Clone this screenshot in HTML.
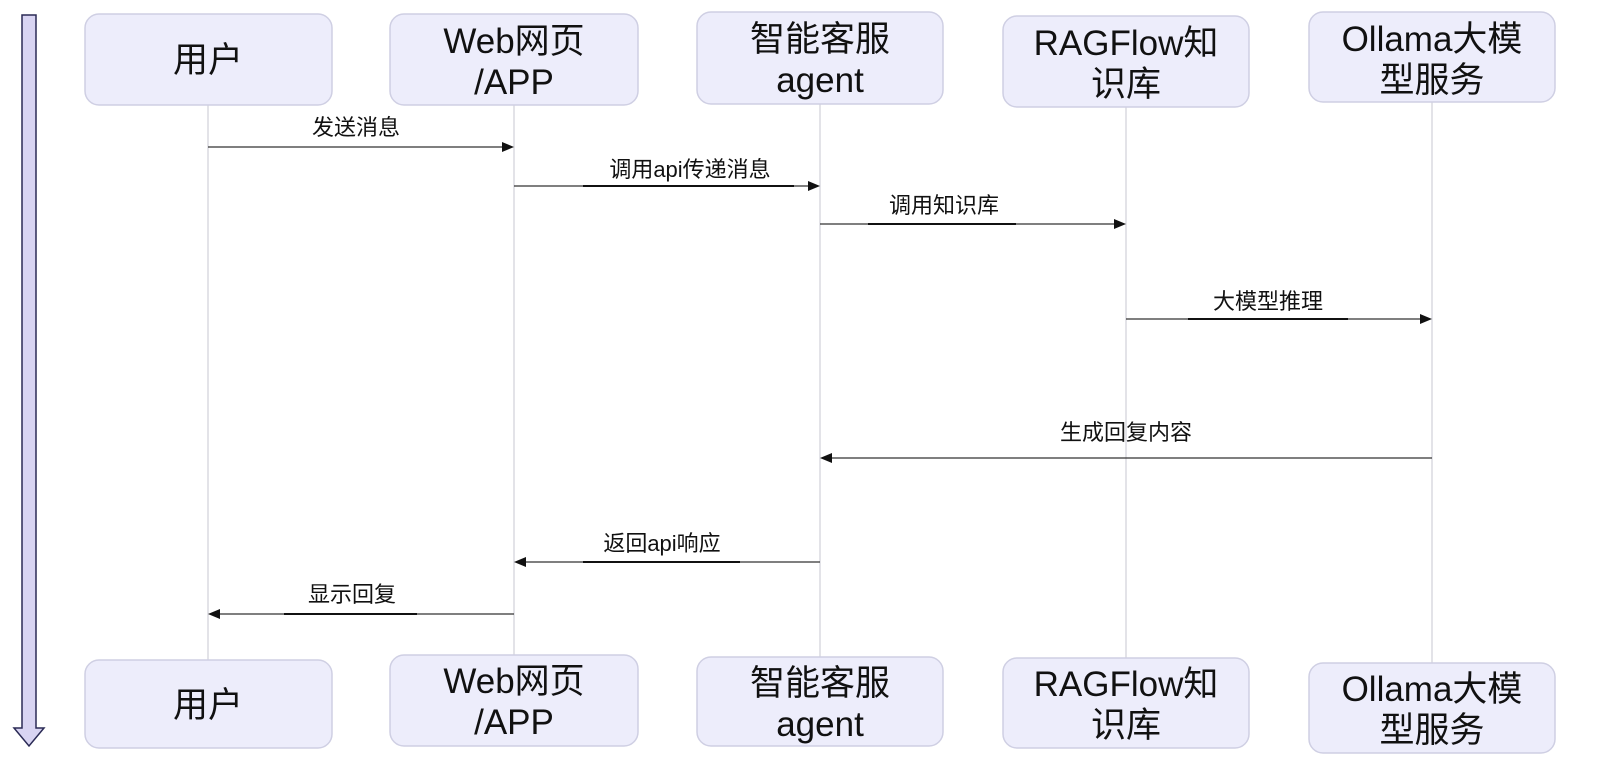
<!DOCTYPE html>
<html><head><meta charset="utf-8"><style>
html,body{margin:0;padding:0;background:#fff;}
svg{display:block;}
.box{fill:#ededfb;stroke:#cfcfe3;stroke-width:1.5;}
.bt{font-family:"Liberation Sans","Noto Sans CJK SC",sans-serif;font-size:35px;fill:#111;text-anchor:middle;}
.ml{font-family:"Liberation Sans","Noto Sans CJK SC",sans-serif;font-size:22px;fill:#111;text-anchor:middle;}
.life{stroke:#d0d0d8;stroke-width:1.2;}
.msg{stroke:#333;stroke-width:1.3;}
.ul{stroke:#111;stroke-width:2;}
</style></head><body>
<svg width="1600" height="777" viewBox="0 0 1600 777" xmlns="http://www.w3.org/2000/svg">
<path d="M22 15 H36 V728 H44 L29 746 L14 728 H22 Z" fill="#d8d4f2" stroke="#2a2a55" stroke-width="1.5"/>
<line class="life" x1="208" y1="105" x2="208" y2="660"/>
<line class="life" x1="514" y1="105" x2="514" y2="655"/>
<line class="life" x1="820" y1="104" x2="820" y2="657"/>
<line class="life" x1="1126" y1="107" x2="1126" y2="658"/>
<line class="life" x1="1432" y1="102" x2="1432" y2="663"/>
<rect class="box" x="85" y="14" width="247" height="91" rx="14"/>
<text class="bt" x="208" y="72">用户</text>
<rect class="box" x="390" y="14" width="248" height="91" rx="14"/>
<text class="bt" x="514" y="53">Web网页</text><text class="bt" x="514" y="94">/APP</text>
<rect class="box" x="697" y="12" width="246" height="92" rx="14"/>
<text class="bt" x="820" y="51">智能客服</text><text class="bt" x="820" y="92">agent</text>
<rect class="box" x="1003" y="16" width="246" height="91" rx="14"/>
<text class="bt" x="1126" y="55">RAGFlow知</text><text class="bt" x="1126" y="96">识库</text>
<rect class="box" x="1309" y="12" width="246" height="90" rx="14"/>
<text class="bt" x="1432" y="51">Ollama大模</text><text class="bt" x="1432" y="92">型服务</text>
<rect class="box" x="85" y="660" width="247" height="88" rx="14"/>
<text class="bt" x="208" y="717">用户</text>
<rect class="box" x="390" y="655" width="248" height="91" rx="14"/>
<text class="bt" x="514" y="693">Web网页</text><text class="bt" x="514" y="734">/APP</text>
<rect class="box" x="697" y="657" width="246" height="89" rx="14"/>
<text class="bt" x="820" y="695">智能客服</text><text class="bt" x="820" y="736">agent</text>
<rect class="box" x="1003" y="658" width="246" height="90" rx="14"/>
<text class="bt" x="1126" y="696">RAGFlow知</text><text class="bt" x="1126" y="737">识库</text>
<rect class="box" x="1309" y="663" width="246" height="90" rx="14"/>
<text class="bt" x="1432" y="701">Ollama大模</text><text class="bt" x="1432" y="742">型服务</text>
<line class="msg" x1="208" y1="147" x2="504" y2="147"/><path d="M514 147 L502 142 V152 Z" fill="#111"/>
<text class="ml" x="356" y="135">发送消息</text>
<line class="msg" x1="514" y1="186" x2="810" y2="186"/><path d="M820 186 L808 181 V191 Z" fill="#111"/>
<line class="ul" x1="583" y1="186" x2="794" y2="186"/>
<text class="ml" x="690" y="177">调用api传递消息</text>
<line class="msg" x1="820" y1="224" x2="1116" y2="224"/><path d="M1126 224 L1114 219 V229 Z" fill="#111"/>
<line class="ul" x1="868" y1="224" x2="1016" y2="224"/>
<text class="ml" x="944" y="213">调用知识库</text>
<line class="msg" x1="1126" y1="319" x2="1422" y2="319"/><path d="M1432 319 L1420 314 V324 Z" fill="#111"/>
<line class="ul" x1="1188" y1="319" x2="1348" y2="319"/>
<text class="ml" x="1268" y="309">大模型推理</text>
<line class="msg" x1="830" y1="458" x2="1432" y2="458"/><path d="M820 458 L832 453 V463 Z" fill="#111"/>
<text class="ml" x="1126" y="440">生成回复内容</text>
<line class="msg" x1="524" y1="562" x2="820" y2="562"/><path d="M514 562 L526 557 V567 Z" fill="#111"/>
<line class="ul" x1="583" y1="562" x2="740" y2="562"/>
<text class="ml" x="662" y="551">返回api响应</text>
<line class="msg" x1="218" y1="614" x2="514" y2="614"/><path d="M208 614 L220 609 V619 Z" fill="#111"/>
<line class="ul" x1="284" y1="614" x2="417" y2="614"/>
<text class="ml" x="352" y="602">显示回复</text>
</svg>
</body></html>
